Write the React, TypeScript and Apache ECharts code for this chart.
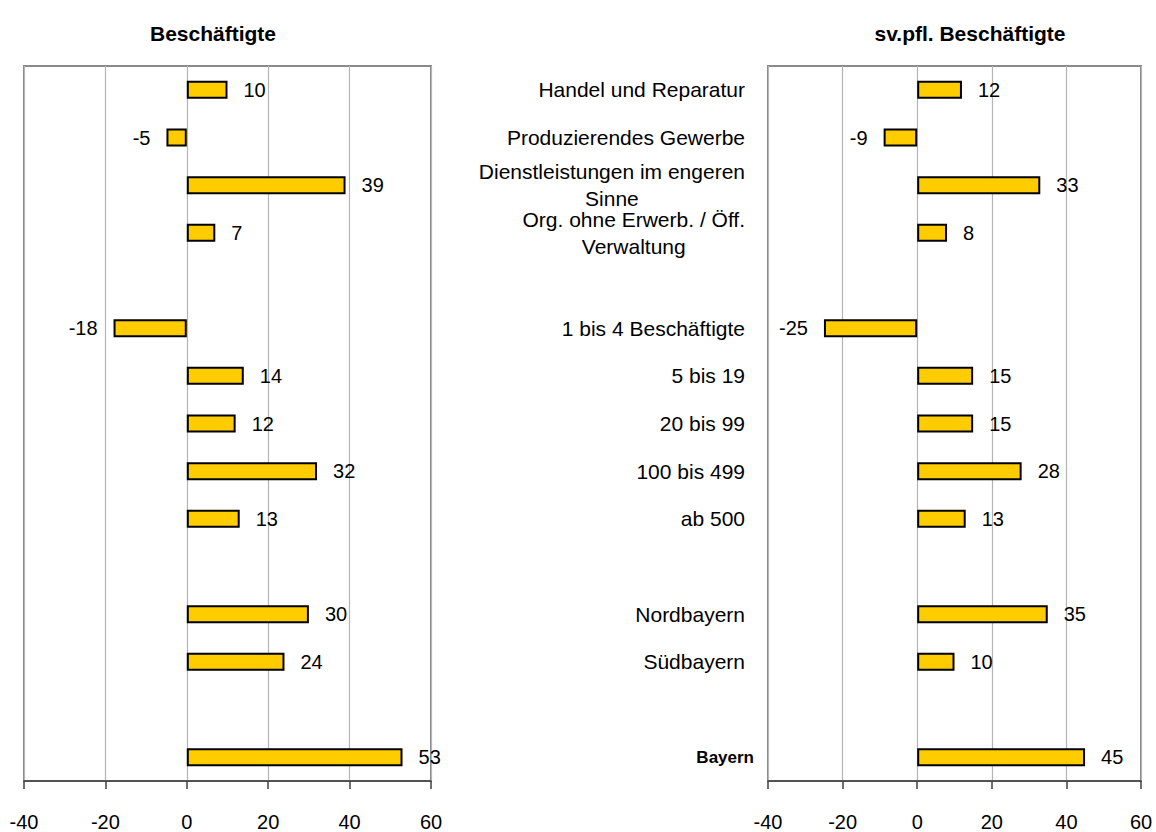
import React, { useEffect, useRef } from "react";
import * as echarts from "echarts";

const categories = [
  "Handel und Reparatur",
  "Produzierendes Gewerbe",
  "Dienstleistungen im engeren\nSinne",
  "Org. ohne Erwerb. / Öff.\nVerwaltung",
  " ",
  "1 bis 4 Beschäftigte",
  "5 bis 19",
  "20 bis 99",
  "100 bis 499",
  "ab 500",
  "  ",
  "Nordbayern",
  "Südbayern",
  "   ",
  "Bayern",
];

const beschaeftigte: (number | null)[] = [10, -5, 39, 7, null, -18, 14, 12, 32, 13, null, 30, 24, null, 53];
const svBeschaeftigte: (number | null)[] = [12, -9, 33, 8, null, -25, 15, 15, 28, 13, null, 35, 10, null, 45];

const titles = ["Beschäftigte", "sv.pfl. Beschäftigte"];
const xMin = -40;
const xMax = 60;
const xInterval = 20;

const FONT = '"Liberation Sans", Arial, sans-serif';

function toData(values: (number | null)[]) {
  return values.map((v) =>
    v === null
      ? { value: "-" }
      : {
          value: v,
          label: { position: v < 0 ? "left" : "right" },
        }
  );
}

export default function App() {
  const ref = useRef<HTMLDivElement>(null);

  useEffect(() => {
    if (!ref.current) return;
    const chart = echarts.init(ref.current, null, { renderer: "svg" });

    const xAxisBase = (gridIndex: number) => ({
      type: "value",
      gridIndex,
      min: xMin,
      max: xMax,
      interval: xInterval,
      axisLine: { show: true, onZero: false, lineStyle: { color: "#404040", width: 1.5 } },
      axisTick: { show: true, inside: false, length: 8, lineStyle: { color: "#404040", width: 1.5 } },
      axisLabel: { color: "#000", fontSize: 20, fontFamily: FONT, margin: 31 },
      splitLine: { show: true, lineStyle: { color: "#b4b4b4", width: 1.2 } },
    });

    const barSeries = (values: (number | null)[], idx: number) => ({
      type: "bar",
      xAxisIndex: idx,
      yAxisIndex: idx,
      data: toData(values),
      barWidth: 18,
      itemStyle: { color: "#FFCC00", borderColor: "#000", borderWidth: 2 },
      label: {
        show: true,
        distance: 16,
        color: "#000",
        fontSize: 20,
        fontFamily: FONT,
      },
    });

    chart.setOption({
      animation: false,
      backgroundColor: "#fff",
      title: [
        {
          text: titles[0],
          left: 208,
          top: 18,
          textAlign: "center",
          textStyle: { fontSize: 21, fontWeight: "bold", color: "#000", fontFamily: FONT },
        },
        {
          text: titles[1],
          left: 965,
          top: 18,
          textAlign: "center",
          textStyle: { fontSize: 21, fontWeight: "bold", color: "#000", fontFamily: FONT },
        },
      ],
      grid: [
        { left: 24, right: 725, top: 66, bottom: 51, show: true, borderColor: "#8a8a8a", borderWidth: 2, backgroundColor: "transparent" },
        { left: 768, right: 15, top: 66, bottom: 51, show: true, borderColor: "#8a8a8a", borderWidth: 2, backgroundColor: "transparent" },
      ],
      xAxis: [xAxisBase(0), xAxisBase(1)],
      yAxis: [
        {
          type: "category",
          gridIndex: 0,
          inverse: true,
          data: categories,
          axisLine: { show: false },
          axisTick: { show: false },
          axisLabel: { show: false },
          splitLine: { show: false },
        },
        {
          type: "category",
          gridIndex: 1,
          inverse: true,
          data: categories,
          axisLine: { show: false },
          axisTick: { show: false },
          splitLine: { show: false },
          axisLabel: {
            show: true,
            interval: 0,
            margin: 14,
            color: "#000",
            fontSize: 21,
            fontFamily: FONT,
            formatter: (value: string) => {
              if (value === "Bayern") return "{b|Bayern}";
              return value
                .split("\n")
                .map((line) => "{c|" + line + "}")
                .join("\n");
            },
            rich: {
              c: { align: "center", fontSize: 21, fontFamily: FONT, color: "#000", lineHeight: 27, padding: [0, 9, 0, 0] },
              b: { fontSize: 17, fontWeight: "bold", fontFamily: FONT, color: "#000" },
            },
          },
        },
      ],
      series: [barSeries(beschaeftigte, 0), barSeries(svBeschaeftigte, 1)],
    });

    return () => chart.dispose();
  }, []);

  return (
    <div
      ref={ref}
      style={{ position: "fixed", left: 0, top: 0, width: 1156, height: 832, background: "#fff" }}
    />
  );
}
